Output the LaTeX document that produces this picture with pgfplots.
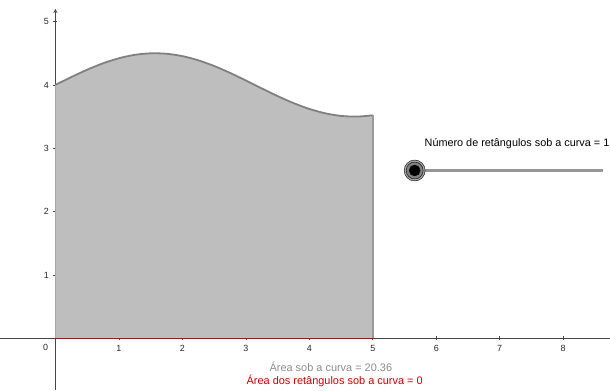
\documentclass[border=0pt]{standalone}
\usepackage{pgfplots}
\pgfplotsset{compat=1.18}
\usepackage{fontspec}
\setmainfont{Liberation Sans}
\definecolor{fillgray}{RGB}{190,190,190}
\definecolor{edgegray}{RGB}{128,128,128}
\definecolor{axgray}{RGB}{70,70,70}
\definecolor{ggred}{RGB}{204,0,0}
\definecolor{slgray}{RGB}{150,150,150}
\begin{document}
\begin{tikzpicture}
\begin{axis}[
  x=63.6bp, y=63.5bp,
  xmin=-0.865, xmax=8.73, ymin=-0.82, ymax=5.2,
  axis lines=middle,
  axis line style={axgray, line width=0.9bp},
  x axis line style={-},
  y axis line style={-stealth},
  xtick={1,...,8}, ytick={1,...,5},
  tick style={axgray, line width=0.6bp},
  major tick length=4bp,
  tick label style={font=\fontsize{9}{10}\selectfont, text=black!85},
  xticklabel style={yshift=-1bp},
  yticklabel style={xshift=-1bp},
  /pgf/number format/assume math mode=true,
  clip=false,
]
\path (axis cs:-0.865,-0.82) rectangle (axis cs:8.73,5.34);
\addplot[fill=fillgray, draw=none, smooth] coordinates {
(0,4) (0.25,4.1237) (0.5,4.2397) (0.75,4.3408) (1,4.4207) (1.25,4.4745)
(1.5,4.4987) (1.75,4.4920) (2,4.4546) (2.25,4.3890) (2.5,4.2992) (2.75,4.1909)
(3,4.0706) (3.25,3.9460) (3.5,3.8246) (3.75,3.7142) (4,3.6216) (4.25,3.5525)
(4.5,3.5112) (4.75,3.5003) (5,3.5205)} \closedcycle;
\addplot[edgegray, line width=1.8bp, smooth] coordinates {
(0,4) (0.25,4.1237) (0.5,4.2397) (0.75,4.3408) (1,4.4207) (1.25,4.4745)
(1.5,4.4987) (1.75,4.4920) (2,4.4546) (2.25,4.3890) (2.5,4.2992) (2.75,4.1909)
(3,4.0706) (3.25,3.9460) (3.5,3.8246) (3.75,3.7142) (4,3.6216) (4.25,3.5525)
(4.5,3.5112) (4.75,3.5003) (5,3.5205)};
\addplot[edgegray!80, line width=1.8bp] coordinates {(5,3.5205) (5,0)};
\addplot[edgegray!70, line width=1bp] coordinates {(0,0) (0,4)};
\addplot[ggred, line width=1.6bp] coordinates {(0,0) (5,0)};
% slider
\addplot[slgray, line width=3.5bp] coordinates {(5.66,2.65) (8.62,2.65)};
\addplot[only marks, mark=*, mark size=10.5bp, mark options={fill=black!35, draw=none}] coordinates {(5.66,2.65)};
\addplot[only marks, mark=*, mark size=8.5bp, mark options={fill=black!50, draw=none}] coordinates {(5.66,2.65)};
\addplot[only marks, mark=*, mark size=5.5bp, mark options={fill=black, draw=none}] coordinates {(5.66,2.65)};
\node[anchor=east, font=\fontsize{10.9}{12}\selectfont, inner sep=0pt] at (axis cs:8.73,3.07) {Número de retângulos sob a curva = 1};
\node[anchor=north east, font=\fontsize{9}{10}\selectfont, text=black!85, inner sep=2pt] at (axis cs:-0.08,-0.05) {0};
\node[font=\fontsize{11}{12}\selectfont, text=black!45, inner sep=0pt] at (axis cs:4.34,-0.455) {Área sob a curva = 20.36};
\node[font=\fontsize{11}{12}\selectfont, text=ggred, inner sep=0pt] at (axis cs:4.40,-0.67) {Área dos retângulos sob a curva = 0};
\end{axis}
\end{tikzpicture}
\end{document}
